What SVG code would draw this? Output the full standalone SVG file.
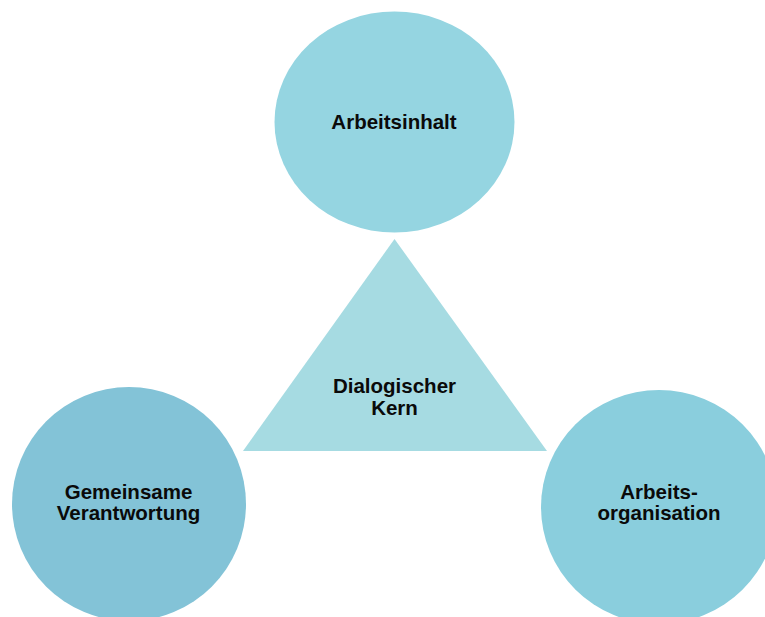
<svg xmlns="http://www.w3.org/2000/svg" width="765" height="617" viewBox="0 0 765 617">
<style>
.lbl{font-family:"Liberation Sans",Arial,sans-serif;font-weight:bold;font-size:20.5px;fill:#0a0a0a;text-anchor:middle}
</style>
<rect width="765" height="617" fill="#ffffff"/>
<g id="arbeitsinhalt">
<ellipse cx="394.5" cy="122" rx="120" ry="110.5" fill="#95D5E1"/>
<text class="lbl" x="394" y="129">Arbeitsinhalt</text>
</g>
<g id="kern">
<polygon points="394.5,239 243,451 547,451" fill="#A6DBE2"/>
<text class="lbl" x="394.5" y="393">Dialogischer</text>
<text class="lbl" x="394.5" y="415">Kern</text>
</g>
<g id="verantwortung">
<ellipse cx="129" cy="504" rx="117" ry="117" fill="#83C3D7"/>
<text class="lbl" x="128.5" y="499">Gemeinsame</text>
<text class="lbl" x="128.5" y="520">Verantwortung</text>
</g>
<g id="organisation">
<ellipse cx="659" cy="507" rx="118" ry="117" fill="#8ACEDD"/>
<text class="lbl" x="659" y="499">Arbeits-</text>
<text class="lbl" x="659" y="520">organisation</text>
</g>
<g id="connectors"></g>
</svg>
